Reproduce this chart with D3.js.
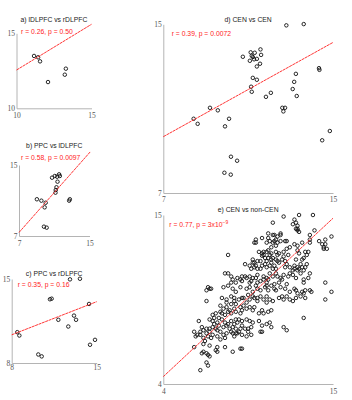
<!DOCTYPE html>
<html>
<head>
<meta charset="utf-8">
<script src="https://cdn.jsdelivr.net/npm/d3@7"></script>
<style>
  body { margin: 0; background: #fff; }
  svg { display: block; }
  .axis path { stroke: #b4b4b4; stroke-width: 1; }
  .axis text { font-family: "Liberation Serif", serif; font-size: 7.5px; fill: #555; }
  .title { font-family: "Liberation Sans", sans-serif; font-size: 6.8px; fill: #1a1a1a; text-anchor: middle; }
  .stat { font-family: "Liberation Sans", sans-serif; font-size: 6.8px; fill: #f22; }
</style>
</head>
<body>
<svg id="chart" width="352" height="400"></svg>
<script>
// ======================
// 1. DATA
// ======================
const titles = ["a) lDLPFC vs rDLPFC", "b) PPC vs lDLPFC", "c) PPC vs rDLPFC", "d) CEN vs CEN", "e) CEN vs non-CEN"];
const stats = ["r = 0.26, p = 0.50", "r = 0.58, p = 0.0097", "r = 0.35, p = 0.16", "r = 0.39, p = 0.0072", "r = 0.77, p = 3x10"];
const statSup = ["", "", "", "", "\u22129"];

const aTicks = [10, 15];
const bTicks = [7, 15];
const cTicks = [8, 15];
const dTicks = [7, 15];
const eTicks = [4, 15];

// fitted lines, [x, y] at both ends
const aFit = [[10, 12.55], [15, 15.6]];
const bFit = [[7, 7.4], [15.1, 16.5]];
const cFit = [[8, 10.35], [15, 13.11]];
const dFit = [[7, 9.67], [15, 14.14]];
const eFit = [[4, 4.48], [15, 14.79]];

const aPoints = [[11.17,13.49],[11.44,13.4],[11.57,13.13],[12.1,11.75],[13.22,12.24],[13.29,12.64]];

const bPoints = [[9.03,11.14],[9.54,10.98],[10.03,10.75],[9.91,10.23],[9.83,8.05],[10.14,7.94],
  [10.75,13.57],[11.06,13.76],[11.32,13.68],[11.55,13.95],[11.63,13.76],[11.37,13.12],
  [11.25,12.49],[11.17,12.18],[11.14,11.88],[12.77,11.14],[12.69,10.98]];

const cPoints = [[8.46,10.57],[8.63,10.29],[10.19,8.71],[10.47,8.55],[11.15,13.31],[11.29,13.36],
  [11.84,11.6],[12.66,11.04],[12.8,14.97],[13.13,11.95],[13.3,11.6],[13.62,15.02],
  [14.37,12.92],[14.45,9.52],[14.86,9.93]];

const dPoints = [[12.8,14.95],[13.62,15.01],[10.75,13.46],[11.12,13.67],[11.31,13.65],[11.58,13.81],
  [11.61,13.55],[11.17,13.51],[11.22,13.45],[11.28,13.34],[11.41,13.36],[11.08,13.27],
  [11.56,13.13],[11.41,13.0],[11.22,12.46],[11.41,12.37],[11.14,12.04],[11.17,11.8],
  [11.84,11.56],[12.07,11.75],[13.25,12.65],[13.17,12.27],[13.1,11.93],[13.29,11.6],
  [14.34,12.92],[14.36,12.84],[12.61,11.04],[12.74,11.04],[12.66,10.87],[9.2,11.04],
  [9.57,10.92],[8.43,10.52],[8.62,10.28],[10.1,10.52],[9.91,10.16],[14.85,9.94],
  [14.49,9.5],[10.19,8.72],[10.48,8.53],[9.88,7.96],[10.18,7.87]];

const ePoints = [
  [11.8,14.9],[12.8,15.0],[13.7,15.0],[11.1,14.5],[12.5,14.7],[12.6,14.5],[12.7,14.3],[12.7,14.1],[12.7,14.0],[12.6,14.1],[12.8,13.9],[12.4,14.4],
  [10.8,13.8],[10.8,13.5],[11.1,13.7],[11.2,13.7],[11.4,13.6],[11.6,13.7],[11.6,13.8],[11.3,13.4],[11.2,13.3],[11.1,13.2],[11.4,13.2],[11.6,13.3],[11.9,13.3],[12.0,13.3],[10.0,13.4],[10.0,13.2],[9.9,13.2],
  [10.4,13.5],[10.7,13.2],[10.9,13.3],[11.3,13.0],[11.0,12.9],[10.8,12.7],[10.5,12.6],[10.4,12.35],[11.8,12.6],[12.0,12.8],[12.2,12.9],[12.5,13.1],[12.7,13.0],[13.0,13.2],[13.5,13.2],[14.3,13.1],
  [13.5,13.7],[13.8,14.0],[13.5,13.4],[14.1,13.3],[14.5,13.4],[14.9,13.6],[14.4,12.9],[14.4,12.8],[14.6,12.8],[14.5,13.1],
  [8.2,12.4],[10.2,12.6],[10.4,12.5],[10.5,12.4],[10.7,12.6],[10.9,12.4],[11.0,12.5],[11.3,12.6],[11.4,12.4],[11.5,12.5],[10.8,12.2],[11.0,12.1],[11.1,12.2],[11.3,12.1],[11.4,12.0],[11.8,12.3],[12.1,12.4],[12.7,12.7],[12.8,12.5],[13.2,12.6],[13.3,12.4],[13.4,12.6],[13.1,12.2],[13.0,12.1],[12.6,12.1],[11.9,12.0],[10.6,12.2],[10.3,12.0],
  [9.8,12.1],[9.9,11.9],[9.7,11.5],[10.3,11.5],[10.6,11.8],[10.7,12.0],[11.0,11.9],[11.2,11.7],[11.5,11.9],[11.7,12.1],[11.9,11.6],[12.5,11.7],[12.7,11.6],[12.9,11.8],[13.1,11.4],
  [9.3,11.8],[9.6,11.7],[9.8,11.9],[10.0,11.7],[10.1,12.0],[9.9,11.6],[10.1,11.5],[10.4,11.7],[10.7,11.6],[10.9,11.7],[11.1,11.5],[11.3,11.5],[12.0,11.8],[12.2,11.6],[12.4,11.4],[12.5,11.5],[12.7,11.4],[12.8,11.5],[13.0,11.6],[13.2,11.6],[13.3,11.8],[12.9,11.2],
  [12.1,11.0],[11.8,11.1],[11.4,11.0],[10.8,10.8],[10.5,11.0],[10.1,11.1],[9.6,10.6],[10.0,10.4],[10.7,10.4],[11.2,10.5],[11.5,10.6],[12.5,10.2],[9.5,9.8],[10.1,9.6],[10.7,9.7],[12.9,9.7],
  [8.0,11.2],[8.2,11.2],[8.4,11.0],[8.5,10.8],[8.4,10.6],[8.8,10.9],[9.0,10.8],[9.1,10.7],[8.7,10.6],[9.1,11.0],[9.3,11.0],[9.4,10.9],[9.6,11.0],[9.8,10.9],[10.0,10.9],[9.7,10.7],[10.1,10.6],[10.3,10.7],[10.5,10.8],[10.7,10.9],[10.7,10.6],[10.9,11.2],[11.1,11.0],[11.3,11.2],[11.6,10.9],[11.7,10.8],[12.0,10.5],[12.2,11.2],[12.4,11.1],[12.6,10.9],[13.1,10.8],[13.1,10.6],[13.4,10.9],[13.5,11.2],[14.5,10.6],
  [6.9,10.3],[7.0,10.2],[6.8,10.1],[7.1,10.2],[7.9,10.3],[8.2,10.4],[8.5,10.2],[8.7,10.0],[9.0,10.3],[9.4,10.2],[9.6,10.3],[9.8,10.0],[10.1,10.2],[10.3,10.1],[10.6,10.3],[10.8,10.1],[11.0,10.4],[11.2,10.2],[11.3,10.1],[11.6,10.3],[11.9,10.2],[12.2,10.0],[12.6,10.1],[12.7,9.9],[13.0,10.0],[13.1,9.9],[13.2,10.1],[13.5,10.1],[13.6,10.0],[14.9,10.0],[14.5,9.5],
  [6.8,9.4],[7.8,9.6],[8.1,9.5],[8.4,9.7],[8.6,9.6],[8.9,9.5],[9.1,9.6],[9.2,9.6],[9.6,9.5],[9.8,9.7],[9.9,9.6],[10.1,9.4],[10.3,9.7],[10.5,9.5],[10.7,9.3],[10.9,9.5],[11.1,9.4],[11.5,9.6],[11.7,9.7],[11.8,9.5],[12.0,9.7],[12.2,9.5],[12.4,9.4],[12.6,9.6],[13.2,9.6],
  [8.1,9.3],[8.4,9.2],[8.6,9.4],[9.2,9.1],[9.4,9.3],[7.2,8.5],[7.4,8.6],[7.7,8.7],[8.2,8.7],[8.7,8.7],[9.0,8.6],
  [7.7,9.1],[7.9,8.9],[8.1,9.0],[8.3,8.8],[8.4,8.6],[8.6,8.9],[7.8,8.6],[8.0,8.5],[8.7,9.2],[9.0,9.0],[9.1,8.8],[9.4,8.9],[9.6,9.0],[9.8,8.8],[9.9,9.0],[10.2,8.6],[10.4,8.8],[10.5,8.6],[10.8,8.7],[11.0,8.8],[13.1,8.3],
  [6.3,8.1],[7.0,8.2],[7.2,8.1],[7.3,8.3],[7.6,8.3],[7.8,8.2],[8.0,8.0],[8.2,7.9],[8.4,8.1],[8.7,8.2],[8.9,8.2],[9.1,8.1],[9.4,8.2],[9.6,8.1],[9.8,8.0],[10.2,8.1],[10.4,7.8],[10.7,7.9],[10.9,8.0],[11.8,7.7],
  [7.3,7.9],[7.5,8.0],[8.6,7.9],[8.8,8.0],[9.1,7.8],[6.4,7.4],[6.6,7.5],[6.8,7.3],[7.0,7.4],[7.5,7.5],[8.6,7.1],[8.8,7.3],[9.5,7.4],[6.7,6.8],[7.1,7.0],[7.7,6.9],[8.0,7.0],
  [6.5,7.7],[6.8,7.6],[7.0,7.6],[7.2,7.7],[7.4,7.6],[7.6,7.8],[7.9,7.7],[8.1,7.8],[8.3,7.6],[8.5,7.7],[8.7,7.6],[9.0,7.6],[9.3,7.6],[9.5,7.6],[9.7,7.7],[10.3,7.4],[10.4,7.4],[11.0,7.7],[12.0,7.5],
  [6.0,7.4],[6.2,7.2],[6.1,7.1],[6.4,7.2],[6.6,7.0],[6.9,7.1],[7.2,7.2],[7.5,7.1],[7.7,7.4],[7.9,7.2],[8.1,7.3],[8.4,7.4],[8.5,7.3],[8.7,7.3],[8.9,7.4],[9.1,7.2],[9.4,7.1],[9.7,7.2],
  [6.0,6.4],[6.6,6.6],[7.0,6.5],[7.5,6.4],[8.0,6.4],[8.5,6.1],[9.0,6.3],[9.1,6.3],
  [6.5,6.0],[6.6,6.1],[6.8,6.0],[6.9,5.9],[7.0,5.8],[7.4,6.2],[7.5,6.1],[6.8,5.4],[6.9,5.2],[6.4,4.9]
];

// ======================
// 2. LAYOUT
// ======================
const panels = [
  { points: aPoints, fit: aFit, ticks: aTicks, left: 16.5, right: 91.5, top: 33.3, bottom: 108.3, titleY: 21.7, statX: 21, statY: 34.4, xPad: 4.4 },
  { points: bPoints, fit: bFit, ticks: bTicks, left: 19, right: 89.5, top: 165, bottom: 236, titleY: 148.4, statX: 21, statY: 159.7, xPad: 4.4 },
  { points: cPoints, fit: cFit, ticks: cTicks, left: 11.7, right: 96.7, top: 279, bottom: 363, titleY: 276.1, statX: 17.7, statY: 287.4, xPad: 1.7 },
  { points: dPoints, fit: dFit, ticks: dTicks, left: 163.3, right: 333, top: 24.3, bottom: 193, titleY: 21.7, statX: 171.7, statY: 36.4, xPad: 3.4 },
  { points: ePoints, fit: eFit, ticks: eTicks, left: 163.3, right: 333, top: 215, bottom: 384, titleY: 212.4, statX: 169.3, statY: 226.7, xPad: 4.4 }
];

// ======================
// 3. DRAW
// ======================
const svg = d3.select("#chart");

panels.forEach((p, i) => {
  const x = d3.scaleLinear().domain(d3.extent(p.ticks)).range([p.left, p.right]);
  const y = d3.scaleLinear().domain(d3.extent(p.ticks)).range([p.bottom, p.top]);
  const g = svg.append("g");

  g.append("g")
    .attr("class", "axis")
    .attr("transform", `translate(0,${p.bottom})`)
    .call(d3.axisBottom(x).tickValues(p.ticks).tickSize(0).tickPadding(p.xPad).tickFormat(d3.format("d")))
    .call(a => a.selectAll("line").remove());

  g.append("g")
    .attr("class", "axis")
    .attr("transform", `translate(${p.left},0)`)
    .call(d3.axisLeft(y).tickValues(p.ticks).tickSize(0).tickPadding(1.5).tickFormat(d3.format("d")))
    .call(a => a.selectAll("line").remove());

  g.selectAll("circle")
    .data(p.points)
    .enter()
    .append("circle")
    .attr("cx", d => x(d[0]))
    .attr("cy", d => y(d[1]))
    .attr("r", 1.75)
    .attr("fill", "none")
    .attr("stroke", "#111")
    .attr("stroke-width", 0.9);

  // fit line sits on top of the points
  g.append("line")
    .attr("x1", x(p.fit[0][0])).attr("y1", y(p.fit[0][1]))
    .attr("x2", x(p.fit[1][0])).attr("y2", y(p.fit[1][1]))
    .attr("stroke", "#ff1f1f")
    .attr("stroke-width", 0.9)
    .attr("stroke-dasharray", "3,0.6");

  g.append("text")
    .attr("class", "title")
    .attr("x", (p.left + p.right) / 2)
    .attr("y", p.titleY)
    .text(titles[i]);

  const st = g.append("text")
    .attr("class", "stat")
    .attr("x", p.statX)
    .attr("y", p.statY)
    .text(stats[i]);
  if (statSup[i]) {
    st.append("tspan")
      .attr("dy", -2.8)
      .attr("font-size", "5px")
      .text(statSup[i]);
  }
});
</script>
</body>
</html>
